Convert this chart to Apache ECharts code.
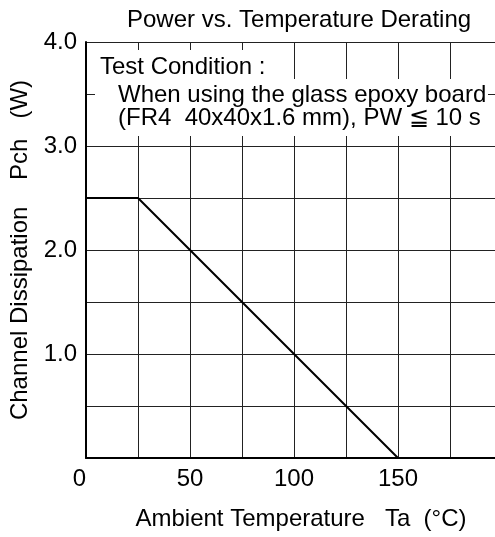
<!DOCTYPE html>
<html>
<head>
<meta charset="utf-8">
<script src="https://cdn.jsdelivr.net/npm/echarts@6/dist/echarts.min.js"></script>
<style>
  html, body { margin: 0; padding: 0; background: #fff; }
  #chart { width: 495px; height: 537px; }
</style>
</head>
<body>
<div id="chart"></div>
<script>
// derating curve: ambient temperature (°C) vs channel dissipation (W)
const temps = [0, 25, 150];
const power = [2.5, 2.5, 0];

const xTickLabels = [0, 50, 100, 150];
const yTickLabels = [1.0, 2.0, 3.0, 4.0];

const conditionLines = [
  'Test Condition :',
  'When using the glass epoxy board',
  '(FR4  40x40x1.6 mm), PW \u2266 10 s'
];

const font = '"Liberation Sans", Arial, Helvetica, sans-serif';
const fs = 24;

const chart = echarts.init(document.getElementById('chart'));

const option = {
  animation: false,
  backgroundColor: '#fff',
  title: {
    text: 'Power vs. Temperature Derating',
    left: 122,
    top: 3,
    textStyle: { fontFamily: font, fontSize: fs, fontWeight: 'normal', color: '#000' }
  },
  grid: { left: 86, top: 42, bottom: 79, right: -7, outerBoundsMode: 'none', containLabel: false },
  xAxis: {
    type: 'value',
    min: 0,
    max: 200,
    interval: 25,
    name: 'Ambient Temperature   Ta  (\u00B0C)',
    nameLocation: 'middle',
    nameGap: 49,
    nameTextStyle: { fontFamily: font, fontSize: fs, color: '#000', padding: [0, 0, 0, 14] },
    axisLine: { lineStyle: { color: '#000', width: 2 } },
    axisTick: { show: false },
    axisLabel: {
      fontFamily: font, fontSize: fs, color: '#000', margin: 9,
      alignMinLabel: 'right',
      formatter: v => xTickLabels.indexOf(v) >= 0 ? String(v) : ''
    },
    splitLine: { show: true, lineStyle: { color: '#222', width: 1 } }
  },
  yAxis: {
    type: 'value',
    min: 0,
    max: 4,
    interval: 0.5,
    name: 'Channel Dissipation    Pch   (W)',
    nameLocation: 'middle',
    nameGap: 50,
    nameRotate: 90,
    nameTextStyle: { fontFamily: font, fontSize: fs, color: '#000' },
    axisLine: { show: true, lineStyle: { color: '#000', width: 2 } },
    axisTick: { show: false },
    axisLabel: {
      fontFamily: font, fontSize: fs, color: '#000', margin: 9,
      formatter: v => yTickLabels.indexOf(v) >= 0 ? v.toFixed(1) : ''
    },
    splitLine: { show: true, lineStyle: { color: '#222', width: 1 } }
  },
  graphic: [
    // white boxes behind the test condition note
    { type: 'rect', z: 10, shape: { x: 88, y: 50, width: 180, height: 29 }, style: { fill: '#fff' } },
    { type: 'rect', z: 10, shape: { x: 95, y: 79, width: 393, height: 57 }, style: { fill: '#fff' } },
    { type: 'text', z: 11, x: 100, y: 67, style: { text: conditionLines[0], font: fs + 'px ' + font, fill: '#000', verticalAlign: 'middle' } },
    { type: 'text', z: 11, x: 118, y: 95, style: { text: conditionLines[1], font: fs + 'px ' + font, fill: '#000', verticalAlign: 'middle' } },
    { type: 'text', z: 11, x: 118, y: 118, style: { text: conditionLines[2], font: fs + 'px ' + font, fill: '#000', verticalAlign: 'middle' } }
  ],
  series: [{
    type: 'line',
    data: temps.map((t, i) => [t, power[i]]),
    symbol: 'none',
    lineStyle: { color: '#000', width: 2 }
  }]
};

chart.setOption(option);
</script>
</body>
</html>
